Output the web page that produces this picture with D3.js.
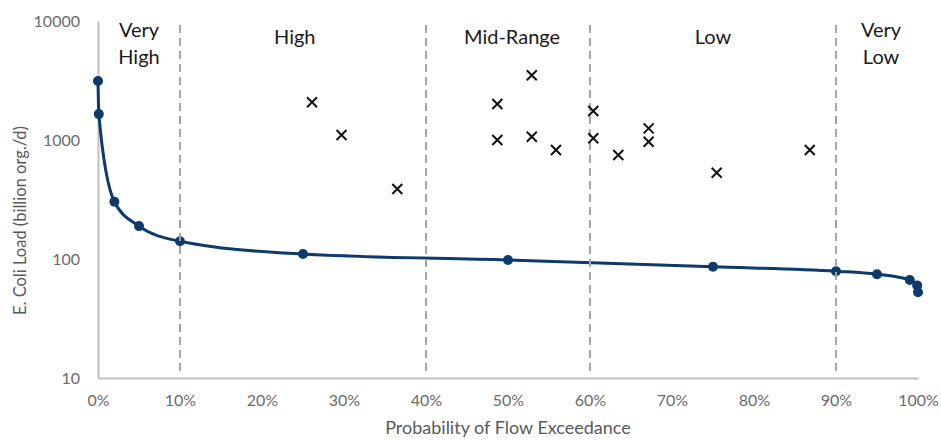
<!DOCTYPE html>
<meta charset="utf-8">
<script src="https://d3js.org/d3.v7.min.js"></script>
<style>
  body { margin: 0; background: #fff; }
  text { font-family: Lato, "Open Sans", sans-serif; }
</style>
<div id="chart"></div>
<script>

// load duration curve (x = probability of flow exceedance, y = load)
var curveX = [0, 0.001, 0.02, 0.05, 0.10, 0.25, 0.50, 0.75, 0.90, 0.95, 0.99, 0.999, 1.0]
var curveY = [3130, 1650, 303, 189, 141, 110, 98, 86, 79, 74.5, 66.5, 60, 52.5]

// observed loads (x markers)
var obsX = [0.261, 0.297, 0.365, 0.487, 0.487, 0.529, 0.529, 0.5585, 0.604, 0.604, 0.6345, 0.6715, 0.6715, 0.7545, 0.868]
var obsY = [2075, 1100, 387, 2007, 1000, 3500, 1066, 824, 1753, 1033, 748, 1253, 968, 531, 824]

// flow regime boundaries and labels
var zoneBreaks = [0.10, 0.40, 0.60, 0.90]
var zoneLabels = [["Very", "High"], ["High"], ["Mid-Range"], ["Low"], ["Very", "Low"]]
var zoneLabelX = [0.05, 0.24, 0.505, 0.75, 0.955]

var yTicks = [10, 100, 1000, 10000]
var xTicks = [0, 0.1, 0.2, 0.3, 0.4, 0.5, 0.6, 0.7, 0.8, 0.9, 1.0]

var width = 941,
    height = 440,
    margin = {top: 21, right: 23, bottom: 62, left: 98}

var svg = d3.select("#chart")
  .append("svg")
    .attr("width", width)
    .attr("height", height)

var x = d3.scaleLinear()
  .domain([0, 1])
  .range([margin.left, width - margin.right])

var y = d3.scaleLog()
  .domain([10, 10000])
  .range([height - margin.bottom, margin.top])

var navy = "#0c3a6b"

// axes
var yAxis = svg.append("g")
  .attr("transform", "translate(" + margin.left + ",0)")
  .call(d3.axisLeft(y).tickValues(yTicks).tickFormat(d3.format("d")).tickSize(0).tickPadding(18))
var xAxis = svg.append("g")
  .attr("transform", "translate(0," + (height - margin.bottom) + ")")
  .call(d3.axisBottom(x).tickValues(xTicks).tickFormat(d3.format(".0%")).tickSize(0).tickPadding(17))

svg.selectAll(".domain").attr("stroke", "#bfbfbf").attr("stroke-width", 2)
svg.selectAll(".tick text")
  .style("font-size", "16px")
  .style("font-family", "Lato, sans-serif")
  .attr("fill", "#6b6b6b")

// axis titles
svg.append("text")
  .attr("x", x(0.5))
  .attr("y", 434)
  .attr("text-anchor", "middle")
  .attr("fill", "#595959")
  .style("font-size", "18px")
  .text("Probability of Flow Exceedance")

svg.append("text")
  .attr("transform", "translate(26," + (margin.top + (height - margin.bottom - margin.top) / 2 + 21) + ") rotate(-90)")
  .attr("text-anchor", "middle")
  .attr("fill", "#595959")
  .style("font-size", "16.5px")
  .text("E. Coli Load (billion org./d)")

// duration curve
var curvePts = curveX.map(function(d, i) { return [d, curveY[i]] })

svg.append("path")
  .datum(curvePts)
  .attr("fill", "none")
  .attr("stroke", navy)
  .attr("stroke-width", 3)
  .attr("d", d3.line()
    .x(function(d) { return x(d[0]) })
    .y(function(d) { return y(d[1]) })
    .curve(d3.curveMonotoneX))

svg.selectAll("circle.curve")
  .data(curvePts)
  .enter()
  .append("circle")
    .attr("class", "curve")
    .attr("cx", function(d) { return x(d[0]) })
    .attr("cy", function(d) { return y(d[1]) })
    .attr("r", 5)
    .attr("fill", navy)

// dashed zone boundaries (drawn over the curve like the original)
svg.selectAll("line.zone")
  .data(zoneBreaks)
  .enter()
  .append("line")
    .attr("class", "zone")
    .attr("x1", function(d) { return x(d) })
    .attr("x2", function(d) { return x(d) })
    .attr("y1", y(10000) + 4)
    .attr("y2", y(10) - 6)
    .attr("stroke", "#a6a6a6")
    .attr("stroke-width", 2)
    .attr("stroke-dasharray", "8,5")

// observed loads as x markers
var obsPts = obsX.map(function(d, i) { return [d, obsY[i]] })
var s = 5
svg.selectAll("path.obs")
  .data(obsPts)
  .enter()
  .append("path")
    .attr("class", "obs")
    .attr("transform", function(d) { return "translate(" + x(d[0]) + "," + y(d[1]) + ")" })
    .attr("d", "M" + (-s) + "," + (-s) + "L" + s + "," + s + "M" + (-s) + "," + s + "L" + s + "," + (-s))
    .attr("stroke", "#111")
    .attr("stroke-width", 2)

// zone labels
zoneLabels.forEach(function(lines, i) {
  var t = svg.append("text")
    .attr("x", x(zoneLabelX[i]))
    .attr("y", lines.length > 1 ? 37 : 44)
    .attr("text-anchor", "middle")
    .attr("fill", "#1a1a1a")
    .style("font-size", "20px")
  lines.forEach(function(l, j) {
    t.append("tspan")
      .attr("x", x(zoneLabelX[i]))
      .attr("dy", j == 0 ? 0 : 27)
      .text(l)
  })
})

</script>
